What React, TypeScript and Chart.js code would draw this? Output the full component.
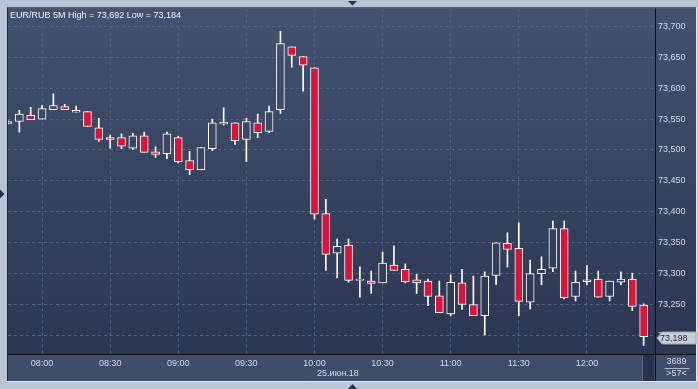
import React, { useEffect, useRef } from 'react';
import { Chart, registerables } from 'chart.js';

Chart.register(...registerables);

const symbolName = 'EUR/RUB';
const periodName = '5M';
const firstCandleTime = '07:45';
const candleStepMinutes = 5;
const dateLabel = '25.июн.18';
const volumeText = '3689';

const opens = [
  73.543, 73.546, 73.556, 73.550, 73.565, 73.570, 73.561, 73.562, 73.536, 73.520,
  73.520, 73.503, 73.523, 73.497, 73.494, 73.520, 73.483, 73.468, 73.502, 73.542,
  73.544, 73.517, 73.544, 73.530, 73.565, 73.667, 73.651, 73.633, 73.397, 73.333,
  73.346, 73.289, 73.288, 73.285, 73.314, 73.307, 73.290, 73.288, 73.264, 73.235,
  73.285, 73.250, 73.232, 73.297, 73.349, 73.341, 73.254, 73.300, 73.309, 73.373,
  73.263, 73.287, 73.291, 73.263, 73.286, 73.291, 73.249,
];
const highs = [
  73.547, 73.564, 73.569, 73.572, 73.591, 73.574, 73.571, 73.562, 73.551, 73.524,
  73.526, 73.527, 73.529, 73.505, 73.529, 73.522, 73.498, 73.504, 73.550, 73.568,
  73.544, 73.551, 73.558, 73.571, 73.692, 73.667, 73.651, 73.633, 73.420, 73.356,
  73.356, 73.311, 73.304, 73.335, 73.345, 73.316, 73.299, 73.291, 73.288, 73.298,
  73.307, 73.296, 73.303, 73.350, 73.366, 73.382, 73.322, 73.327, 73.385, 73.385,
  73.304, 73.313, 73.304, 73.288, 73.303, 73.301, 73.251,
];
const lows = [
  73.542, 73.529, 73.549, 73.550, 73.565, 73.565, 73.561, 73.538, 73.514, 73.503,
  73.502, 73.501, 73.496, 73.488, 73.486, 73.479, 73.460, 73.468, 73.499, 73.540,
  73.509, 73.481, 73.520, 73.528, 73.559, 73.634, 73.595, 73.388, 73.305, 73.293,
  73.286, 73.262, 73.268, 73.285, 73.305, 73.285, 73.268, 73.248, 73.237, 73.232,
  73.242, 73.232, 73.201, 73.282, 73.311, 73.232, 73.243, 73.282, 73.303, 73.259,
  73.256, 73.282, 73.262, 73.256, 73.282, 73.240, 73.184,
];
const closes = [
  73.546, 73.558, 73.549, 73.567, 73.572, 73.565, 73.564, 73.538, 73.517, 73.517,
  73.506, 73.523, 73.496, 73.493, 73.526, 73.481, 73.468, 73.504, 73.544, 73.545,
  73.515, 73.546, 73.528, 73.562, 73.672, 73.653, 73.637, 73.396, 73.331, 73.344,
  73.289, 73.291, 73.284, 73.317, 73.305, 73.287, 73.285, 73.263, 73.237, 73.286,
  73.250, 73.232, 73.296, 73.350, 73.339, 73.255, 73.300, 73.307, 73.373, 73.261,
  73.286, 73.290, 73.262, 73.288, 73.291, 73.247, 73.198,
];

const timeTickLabels = ['08:00', '08:30', '09:00', '09:30', '10:00', '10:30', '11:00', '11:30', '12:00'];
const priceTicks = [73.2, 73.25, 73.3, 73.35, 73.4, 73.45, 73.5, 73.55, 73.6, 73.65, 73.7];

const toMin = (t: string) => {
  const [h, m] = t.split(':').map(Number);
  return h * 60 + m;
};
const timeTickIndex = timeTickLabels.map((t) => (toMin(t) - toMin(firstCandleTime)) / candleStepMinutes);
const fmtPrice = (v: number) => Number(v).toFixed(3).replace('.', ',');

const FONT = '"Liberation Sans", Arial, sans-serif';
const FRAME = '#b9c5d6';
const STRIP = '#3e4d6a';
const GRID = '#52638a';
const TEXT = '#d2dcee';
const RED = '#dc143c';

export default function App() {
  const ref = useRef<HTMLCanvasElement>(null);

  useEffect(() => {
    const canvas = ref.current!;
    let grad: CanvasGradient | null = null;
    const getGrad = (chart: any) => {
      const a = chart.chartArea;
      if (!grad) {
        grad = chart.ctx.createLinearGradient(0, a.top, 0, a.bottom);
        grad!.addColorStop(0, '#42526f');
        grad!.addColorStop(1, '#2b3651');
      }
      return grad!;
    };

    const decor = {
      id: 'decor',
      beforeDraw(chart: any) {
        const ctx = chart.ctx as CanvasRenderingContext2D;
        const a = chart.chartArea;
        const W = chart.width;
        const H = chart.height;
        const yAxis = chart.scales.y;
        const xAxis = chart.scales.x;
        ctx.save();
        ctx.fillStyle = FRAME;
        ctx.fillRect(0, 0, W, H);
        ctx.fillStyle = '#e4e9f0';
        ctx.fillRect(a.left - 1, xAxis.bottom, yAxis.right - a.left + 2, 1);
        ctx.fillRect(yAxis.right, a.top - 1, 1, xAxis.bottom - a.top + 2);
        // plot + right axis background
        ctx.fillStyle = getGrad(chart);
        ctx.fillRect(a.left, a.top, yAxis.right - a.left, a.bottom - a.top);
        // bottom strip
        ctx.fillStyle = STRIP;
        ctx.fillRect(a.left, a.bottom, yAxis.right - a.left, xAxis.bottom - a.bottom);
        // scroll box
        ctx.fillStyle = '#27324b';
        ctx.fillRect(a.right - 12, a.bottom + 1, 11, xAxis.bottom - a.bottom - 1);
        ctx.fillStyle = '#56647e';
        ctx.fillRect(a.right - 13, a.bottom + 1, 1, xAxis.bottom - a.bottom - 1);
        ctx.restore();
      },
      afterDraw(chart: any) {
        const ctx = chart.ctx as CanvasRenderingContext2D;
        const a = chart.chartArea;
        const yAxis = chart.scales.y;
        const xAxis = chart.scales.x;
        ctx.save();
        // borders
        ctx.fillStyle = '#0b0f18';
        ctx.fillRect(a.right, a.top, 1, xAxis.bottom - a.top);
        ctx.fillRect(a.left, a.bottom, yAxis.right - a.left, 1);
        ctx.fillStyle = '#1a2233';
        ctx.fillRect(a.left - 1, a.top - 1, 1, xAxis.bottom - a.top + 1);
        ctx.fillRect(a.left - 1, a.top - 1, yAxis.right - a.left + 1, 1);

        // title
        const hi = Math.max(...highs);
        const lo = Math.min(...lows);
        ctx.font = `9px ${FONT}`;
        ctx.fillStyle = '#f2f5fa';
        ctx.textAlign = 'left';
        ctx.textBaseline = 'middle';
        ctx.fillText(`${symbolName} ${periodName} High = ${fmtPrice(hi)} Low = ${fmtPrice(lo)}`, a.left + 2, a.top + 7);

        // date label under 10:00
        ctx.font = `9px ${FONT}`;
        ctx.fillStyle = TEXT;
        ctx.textAlign = 'center';
        const dIdx = timeTickIndex[timeTickLabels.indexOf('10:00')];
        ctx.fillText(dateLabel, xAxis.getPixelForValue(dIdx) + 23.5, a.bottom + 20);

        // count box
        const cx = (a.right + yAxis.right) / 2 + 1;
        ctx.fillText(volumeText, cx, a.bottom + 8);
        ctx.fillText(`>${opens.length}<`, cx, a.bottom + 20);
        ctx.fillStyle = '#aab6c8';
        ctx.fillRect(cx - 12, a.bottom + 14, 25, 1);

        // last price tag
        const last = closes[closes.length - 1];
        const py = Math.round(yAxis.getPixelForValue(last)) + 1;
        const tx = a.right + 2;
        ctx.beginPath();
        ctx.moveTo(tx, py);
        ctx.lineTo(tx + 5, py - 6);
        ctx.lineTo(yAxis.right, py - 6);
        ctx.lineTo(yAxis.right, py + 6);
        ctx.lineTo(tx + 5, py + 6);
        ctx.closePath();
        ctx.fillStyle = '#c9ced6';
        ctx.fill();
        ctx.strokeStyle = '#9aa3b2';
        ctx.lineWidth = 1;
        ctx.stroke();
        ctx.fillStyle = '#1d2639';
        ctx.textAlign = 'left';
        ctx.font = `9px ${FONT}`;
        ctx.fillText(fmtPrice(last), tx + 3, py + 0.5);

        // frame markers
        ctx.fillStyle = '#26304a';
        ctx.beginPath();
        ctx.moveTo(348, 1); ctx.lineTo(357, 1); ctx.lineTo(352.5, 5.5); ctx.closePath(); ctx.fill();
        ctx.beginPath();
        ctx.moveTo(348, 389); ctx.lineTo(357, 389); ctx.lineTo(352.5, 384); ctx.closePath(); ctx.fill();
        ctx.beginPath();
        ctx.moveTo(0, 189.5); ctx.lineTo(0, 198.5); ctx.lineTo(4.5, 194); ctx.closePath(); ctx.fill();
        ctx.restore();
      },
    };

    const bodyData = opens.map((o, i) => ({ x: i, y: [o, closes[i]] }));
    const wickData = lows.map((l, i) => ({ x: i, y: [l, highs[i]] }));

    const chart = new Chart(canvas, {
      type: 'bar',
      data: {
        datasets: [
          {
            label: 'body',
            data: bodyData as any,
            barThickness: 8,
            borderWidth: 1,
            borderColor: '#ffffff',
            borderSkipped: false,
            grouped: false,
            order: 0,
            backgroundColor: (c: any) => {
              const i = c.dataIndex;
              if (i === undefined || !c.chart.chartArea) return RED;
              return closes[i] >= opens[i] ? getGrad(c.chart) : RED;
            },
          } as any,
          {
            label: 'wick',
            data: wickData as any,
            barThickness: 1,
            borderWidth: 0,
            backgroundColor: '#ffffff',
            grouped: false,
            order: 1,
          } as any,
        ],
      },
      options: {
        responsive: false,
        devicePixelRatio: 1,
        animation: false,
        layout: { padding: { left: 8, top: 8, right: 2, bottom: 8 } },
        plugins: { legend: { display: false }, tooltip: { enabled: false }, title: { display: false } },
        scales: {
          x: {
            type: 'linear',
            min: 0,
            max: opens.length,
            offset: false,
            afterBuildTicks: (s: any) => {
              s.ticks = timeTickIndex.map((v) => ({ value: v }));
            },
            afterFit: (s: any) => {
              s.height = 27;
            },
            ticks: {
              autoSkip: false,
              maxRotation: 0,
              padding: 4,
              color: TEXT,
              font: { family: FONT, size: 9 },
              callback: (_v: any, idx: number) => timeTickLabels[idx],
            },
            grid: { color: GRID, drawTicks: false, offset: false, lineWidth: 1 },
            border: { display: false, dash: [3, 3] },
          } as any,
          y: {
            type: 'linear',
            position: 'right',
            min: 73.17,
            max: 73.729,
            beginAtZero: false,
            afterBuildTicks: (s: any) => {
              s.ticks = priceTicks.map((v) => ({ value: v }));
            },
            afterFit: (s: any) => {
              s.width = 41;
            },
            ticks: {
              padding: 3,
              color: TEXT,
              font: { family: FONT, size: 9 },
              callback: (v: any) => fmtPrice(Number(v)),
            },
            grid: { color: GRID, drawTicks: false, lineWidth: 1 },
            border: { display: false, dash: [3, 3] },
          } as any,
        },
      },
      plugins: [decor],
    });
    return () => chart.destroy();
  }, []);

  return (
    <div style={{ position: 'fixed', left: 0, top: 0, width: 698, height: 389 }}>
      <canvas ref={ref} width={698} height={389} style={{ display: 'block', width: 698, height: 389 }} />
    </div>
  );
}
